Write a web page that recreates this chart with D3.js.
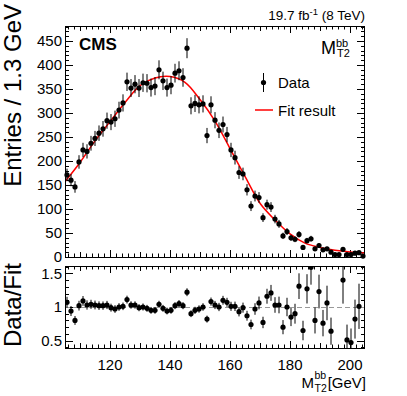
<!DOCTYPE html>
<html><head><meta charset="utf-8">
<script src="https://cdn.jsdelivr.net/npm/d3@7"></script>
<style>body{margin:0;background:#fff;} text{font-family:"Liberation Sans",Arial,Helvetica,sans-serif;fill:#000;}</style>
</head><body><svg id="c" width="407" height="396"></svg>
<script>
// ---- data ----
const xMin = 105, xMax = 205, nBins = 75;
const counts = [171,160,146,198,223,220,237,247,258,267,284,281,288,306,321,365,352,360,352,363,
  362,353,356,390,367,353,358,383,388,374,435,315,320,317,319,253,317,285,264,276,
  255,223,207,176,173,140,106,127,124,82,109,104,79,69,44,53,40,37,47,20,
  34,38,17,24,15,17,10,5,5,16,5,5,8,9,2];
const ratio = [1.07,0.94,0.80,1.02,1.09,1.03,1.04,1.03,1.02,1.02,1.03,0.99,0.97,1.00,1.01,1.11,1.03,1.03,0.99,1.00,
  0.98,0.95,0.95,1.04,0.98,0.94,0.95,1.02,1.05,1.02,1.22,0.90,0.95,0.97,1.00,0.82,1.08,1.03,1.00,1.10,
  1.07,1.01,1.01,0.93,0.99,0.87,0.74,0.97,1.06,0.77,1.16,1.21,1.03,1.03,0.70,1.00,0.85,0.90,1.31,0.65,
  1.27,1.59,0.80,1.23,0.76,1.06,0.64,null,null,1.40,0.51,0.47,0.82,1.01,null];
const fitX = [105,110,115,120,125,130,135,140,145,150,155,160,165,170,175,180,185,190,195,200,205];
const fitY = [157,197,242,282,322,357,373,376,364,328,283,226,168,112,77,48,29,20,14,10.5,8.5];
const yTickLabels = [0,50,100,150,200,250,300,350,400,450];
const xTickLabels = [120,140,160,180,200];
const rTickLabels = [0.5,1,1.5];

// ---- layout ----
const svg = d3.select("#c");
const L = 65, R = 365, mT = 26, mB = 257, rT = 266, rB = 348;
const x = d3.scaleLinear().domain([xMin, xMax]).range([L, R]);
const y = d3.scaleLinear().domain([0, 481.25]).range([mB, mT]);
const yr = d3.scaleLinear().domain([0.39, 1.61]).range([rB, rT]);
const bw = (xMax - xMin) / nBins;
const centers = d3.range(nBins).map(i => xMin + (i + 0.5) * bw);

const defs = svg.append("defs");
defs.append("clipPath").attr("id","cm").append("rect").attr("x",L).attr("y",mT).attr("width",R-L).attr("height",mB-mT);
defs.append("clipPath").attr("id","cr").append("rect").attr("x",L).attr("y",rT).attr("width",R-L).attr("height",rB-rT);

function xAxisTicks(g, yPos, dir) {
  const minor = d3.range(106, 205, 2);
  minor.forEach(v => {
    let len = 3.5;
    if (v % 20 === 0) len = 7; else if (v % 10 === 0) len = 5;
    g.append("line").attr("x1", Math.round(x(v))+0.5).attr("x2", Math.round(x(v))+0.5)
      .attr("y1", yPos).attr("y2", yPos + dir*len).attr("stroke","#000").attr("stroke-width",1);
  });
}
function yTicks(g, scale, vals, len) {
  vals.forEach(v => {
    const yy = Math.round(scale(v)) + 0.5;
    g.append("line").attr("x1", L).attr("x2", L+len).attr("y1", yy).attr("y2", yy).attr("stroke","#000");
    g.append("line").attr("x1", R).attr("x2", R-len).attr("y1", yy).attr("y2", yy).attr("stroke","#000");
  });
}

// ---- main panel ----
const gm = svg.append("g");
yTicks(gm, y, d3.range(0, 481, 10).filter(v => v % 50 !== 0), 4);
yTicks(gm, y, yTickLabels, 8);
xAxisTicks(gm, mB, -1);
xAxisTicks(gm, mT, 1);
gm.selectAll("text.yl").data(yTickLabels).enter().append("text")
  .attr("x", 62).attr("y", d => y(d)).attr("dy","0.36em").attr("text-anchor","end")
  .style("font-size","15px").text(d => d);

const plotM = gm.append("g").attr("clip-path","url(#cm)");
plotM.append("path").datum(fitX.map((v,i)=>[v, fitY[i]]))
  .attr("d", d3.line().x(d=>x(d[0])).y(d=>y(d[1])).curve(d3.curveCatmullRom))
  .attr("fill","none").attr("stroke","#ff0000").attr("stroke-width",1.5);
plotM.selectAll("line.eb").data(counts).enter().append("line")
  .attr("x1",(d,i)=>x(centers[i])).attr("x2",(d,i)=>x(centers[i]))
  .attr("y1",d=>y(d+Math.sqrt(d))).attr("y2",d=>y(Math.max(0,d-Math.sqrt(d))))
  .attr("stroke","#000").attr("stroke-width",1);
gm.selectAll("circle.pt").data(counts).enter().append("circle")
  .attr("cx",(d,i)=>x(centers[i])).attr("cy",d=>y(d)).attr("r",2.6).attr("fill","#000");
gm.append("rect").attr("x",L+0.5).attr("y",mT+0.5).attr("width",R-L-1).attr("height",mB-mT)
  .attr("fill","none").attr("stroke","#000").attr("stroke-width",1);

// ---- ratio panel ----
const gr = svg.append("g");
yTicks(gr, yr, d3.range(0.4, 1.61, 0.1).filter(v => Math.abs(v*2 - Math.round(v*2)) > 0.01), 4);
yTicks(gr, yr, rTickLabels, 8);
xAxisTicks(gr, rB, -1);
xAxisTicks(gr, rT, 1);
gr.selectAll("text.rl").data(rTickLabels).enter().append("text")
  .attr("x", 62).attr("y", d => yr(d)).attr("dy","0.36em").attr("text-anchor","end")
  .style("font-size","15px").text(d => d);
gr.selectAll("text.xl").data(xTickLabels).enter().append("text")
  .attr("x", d => x(d)).attr("y", 369.5).attr("text-anchor","middle")
  .style("font-size","15px").text(d => d);
gr.append("line").attr("x1",L).attr("x2",R).attr("y1",Math.round(yr(1))+0.5).attr("y2",Math.round(yr(1))+0.5)
  .attr("stroke","#999").attr("stroke-dasharray","5,3").attr("stroke-width",1);
const rData = ratio.map((r,i)=>({r, i, n: counts[i]})).filter(d => d.r !== null);
const plotR = gr.append("g").attr("clip-path","url(#cr)");
plotR.selectAll("line.eb").data(rData).enter().append("line")
  .attr("x1",d=>x(centers[d.i])).attr("x2",d=>x(centers[d.i]))
  .attr("y1",d=>yr(d.r + d.r/Math.sqrt(d.n))).attr("y2",d=>yr(d.r - d.r/Math.sqrt(d.n)))
  .attr("stroke","#000").attr("stroke-width",1);
plotR.selectAll("circle").data(rData).enter().append("circle")
  .attr("cx",d=>x(centers[d.i])).attr("cy",d=>yr(d.r)).attr("r",2.6).attr("fill","#000");
gr.append("rect").attr("x",L+0.5).attr("y",rT+0.5).attr("width",R-L-1).attr("height",rB-rT)
  .attr("fill","none").attr("stroke","#000").attr("stroke-width",1);

// ---- titles ----
svg.append("text").attr("transform","translate(21,4) rotate(-90)").attr("text-anchor","end")
  .style("font-size","24px").text("Entries / 1.3 GeV");
svg.append("text").attr("transform","translate(21,263) rotate(-90)").attr("text-anchor","end")
  .style("font-size","24px").text("Data/Fit");
// x title
const xt = svg.append("g");
xt.append("text").attr("x",314).attr("y",387.5).attr("text-anchor","end").style("font-size","15px").text("M");
xt.append("text").attr("x",314.5).attr("y",379).style("font-size","10.5px").text("bb");
xt.append("text").attr("x",314.5).attr("y",392).style("font-size","10.5px").text("T2");
xt.append("text").attr("x",366).attr("y",387.5).attr("text-anchor","end").style("font-size","15px").text("[GeV]");

// top label
const tl = svg.append("text").attr("x",365).attr("y",20).attr("text-anchor","end").style("font-size","13.5px");
tl.append("tspan").text("19.7 fb");
tl.append("tspan").attr("dy",-5).style("font-size","9.5px").text("-1");
tl.append("tspan").attr("dy",5).text(" (8 TeV)");

svg.append("text").attr("x",79).attr("y",50).style("font-size","17px").style("font-weight","bold").text("CMS");
svg.append("text").attr("x",336).attr("y",53.5).attr("text-anchor","end").style("font-size","18px").text("M");
svg.append("text").attr("x",336).attr("y",46.5).style("font-size","11px").text("bb");
svg.append("text").attr("x",337).attr("y",57).style("font-size","11px").text("T2");

// legend
svg.append("line").attr("x1",263.5).attr("x2",263.5).attr("y1",73).attr("y2",92).attr("stroke","#000");
svg.append("circle").attr("cx",263.5).attr("cy",82.5).attr("r",2.6).attr("fill","#000");
svg.append("text").attr("x",278).attr("y",87.5).style("font-size","15px").text("Data");
svg.append("line").attr("x1",255).attr("x2",273).attr("y1",110).attr("y2",110).attr("stroke","#ff0000").attr("stroke-width",1.5);
svg.append("text").attr("x",278).attr("y",115.5).style("font-size","15px").text("Fit result");
</script></body></html>
